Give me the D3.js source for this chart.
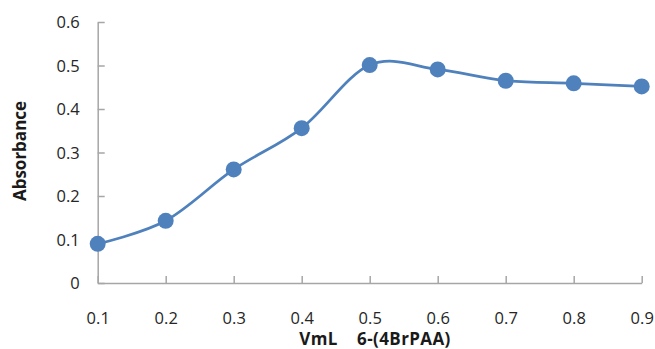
<!DOCTYPE html>
<html>
<head>
<meta charset="utf-8">
<script src="https://cdn.jsdelivr.net/npm/d3@7"></script>
<style>
  html, body { margin: 0; padding: 0; background: #fff; }
  svg { display: block; }
  .tick text { font-family: "Open Sans", "DejaVu Sans", sans-serif; font-size: 16.5px; fill: #262626; }
  .title { font-family: "Open Sans", "DejaVu Sans", sans-serif; font-size: 17px; font-weight: bold; fill: #1a1a1a; }
</style>
</head>
<body>
<svg id="chart" width="655" height="349"></svg>
<script>
// Volume of 6-(4BrPAA) reagent (mL)
const volumes = [0.1, 0.2, 0.3, 0.4, 0.5, 0.6, 0.7, 0.8, 0.9];
// Measured absorbance at each volume
const absorbance = [0.090, 0.143, 0.261, 0.356, 0.501, 0.491, 0.465, 0.459, 0.452];
// Y-axis tick values
const yTicks = [0, 0.1, 0.2, 0.3, 0.4, 0.5, 0.6];

const svg = d3.select("#chart");
const plot = { left: 97.7, right: 641.7, top: 22, bottom: 283 };
const axisColor = "#a6a6a6";
const seriesColor = "#4f81bd";

const x = d3.scalePoint().domain(volumes).range([plot.left, plot.right]);
const y = d3.scaleLinear().domain([0, 0.6]).range([plot.bottom, plot.top]);

// Y axis: ticks point inward
const yAxis = svg.append("g")
  .attr("transform", `translate(${plot.left},0)`)
  .call(d3.axisLeft(y).tickValues(yTicks).tickSizeInner(-7).tickSizeOuter(0)
    .tickFormat(d => d === 0 ? "0" : d3.format(".1f")(d)));
yAxis.select(".domain").attr("stroke", axisColor).attr("stroke-width", 1.5);
yAxis.selectAll(".tick line").attr("stroke", axisColor).attr("stroke-width", 1.5);
yAxis.selectAll(".tick text").attr("x", -18).attr("dy", "0.35em");

// X axis: category ticks at each point, pointing inward
const xAxis = svg.append("g")
  .attr("transform", `translate(0,${plot.bottom})`)
  .call(d3.axisBottom(x).tickSizeInner(-7).tickSizeOuter(0).tickFormat(d3.format(".1f")));
xAxis.select(".domain").attr("stroke", axisColor).attr("stroke-width", 1.5);
xAxis.selectAll(".tick line").attr("stroke", axisColor).attr("stroke-width", 1.5);
xAxis.selectAll(".tick text").attr("y", 35).attr("dy", "0.35em");

// Axis titles
svg.append("text").attr("class", "title")
  .attr("transform", "translate(26,151) rotate(-90)")
  .attr("text-anchor", "middle")
  .text("Absorbance");
svg.append("text").attr("class", "title")
  .attr("x", 375).attr("y", 345)
  .attr("text-anchor", "middle")
  .style("white-space", "pre")
  .style("letter-spacing", "0.4px")
  .text("VmL    6-(4BrPAA)");

// Smoothed series line
const pts = volumes.map((v, i) => [v, absorbance[i]]);
const line = d3.line()
  .x(d => x(d[0]))
  .y(d => y(d[1]))
  .curve(d3.curveCatmullRom.alpha(0));
svg.append("path")
  .datum(pts)
  .attr("d", line)
  .attr("fill", "none")
  .attr("stroke", seriesColor)
  .attr("stroke-width", 2.75);

// Markers
svg.selectAll("circle.pt")
  .data(pts)
  .join("circle")
  .attr("class", "pt")
  .attr("cx", d => x(d[0]))
  .attr("cy", d => y(d[1]))
  .attr("r", 8)
  .attr("fill", seriesColor);
</script>
</body>
</html>
